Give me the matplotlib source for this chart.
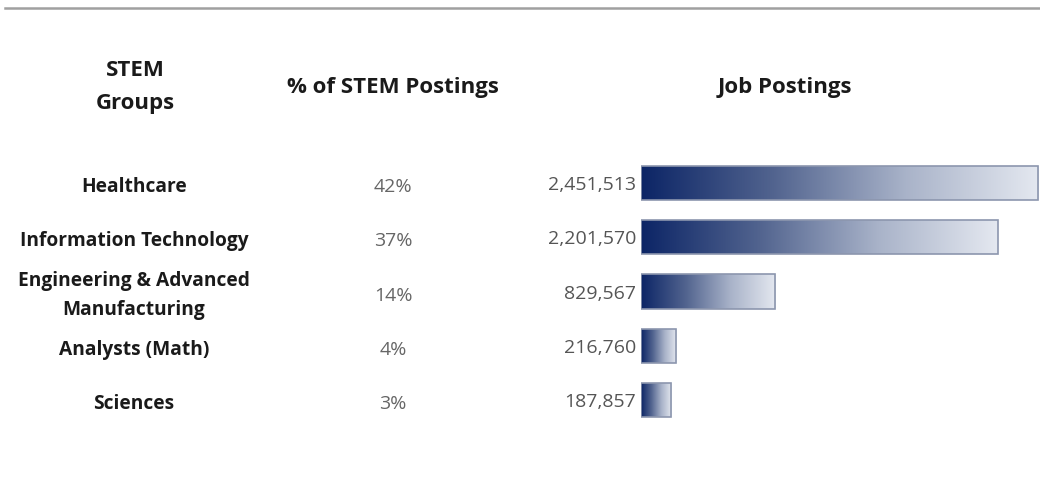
import numpy as np
import matplotlib.pyplot as plt
from matplotlib.colors import LinearSegmentedColormap

# ── Data ──────────────────────────────────────────────
groups = ['Healthcare', 'Information Technology',
          'Engineering & Advanced\nManufacturing', 'Analysts (Math)', 'Sciences']
pct_labels = ['42%', '37%', '14%', '4%', '3%']
postings = [2451513, 2201570, 829567, 216760, 187857]

W, H = 1040, 498
fig = plt.figure(figsize=(W / 100, H / 100), dpi=100)
fig.patch.set_facecolor('white')
plt.rcParams['font.family'] = ['Open Sans', 'DejaVu Sans']

def fx(px):
    return px / W

def fy(py):
    return 1 - py / H

# top rule
fig.add_artist(plt.Line2D([fx(5), 1], [fy(8), fy(8)], color='#a0a0a0', lw=1.8))

# ── Bars axes ──────────────────────────────────────────
top_px, bot_px = 140, 440
y0, step = 183, 54.3
ax = fig.add_axes([fx(641), fy(bot_px), fx(1040 - 641), (bot_px - top_px) / H])
ax.axis('off')

cmap = LinearSegmentedColormap.from_list('nav', ['#0c2566', '#52648f', '#a9b3c9', '#e4e8f0'])
grad = np.linspace(0, 1, 256).reshape(1, -1)
bh = 0.63
ypos = np.arange(len(postings))
bars = ax.barh(ypos, postings, height=bh, color='none', edgecolor='#8c96ae', lw=1.2, zorder=3)
for b, v, yy in zip(bars, postings, ypos):
    im = ax.imshow(grad, cmap=cmap, aspect='auto', extent=[0, v, yy + bh / 2, yy - bh / 2], zorder=2)
    im.set_clip_path(b)
ax.set_xlim(0, postings[0] * 1.004)
ax.set_ylim((bot_px - y0) / step, (top_px - y0) / step)

# ── Table text ─────────────────────────────────────────
hdr = dict(fontsize=16, fontweight='bold', color='#1a1a1a', ha='center', va='center')
fig.text(fx(135), fy(70), 'STEM', **hdr)
fig.text(fx(135), fy(104), 'Groups', **hdr)
fig.text(fx(393), fy(87), '% of STEM Postings', **hdr)
fig.text(fx(785), fy(87), 'Job Postings', **hdr)

for i, (g, p, v) in enumerate(zip(groups, pct_labels, postings)):
    yy = fy(y0 + step * i + 4)
    fig.text(fx(134), yy, g, fontsize=13.8, fontweight='bold', color='#1a1a1a',
             ha='center', va='center', linespacing=1.6)
    fig.text(fx(393), yy, p, fontsize=14, color='#666666', ha='center', va='center')
    fig.text(fx(636), fy(y0 + step * i + 2), f'{v:,}', fontsize=14, color='#555555',
             ha='right', va='center')

fig.savefig('out.png', dpi=100, facecolor='white')
